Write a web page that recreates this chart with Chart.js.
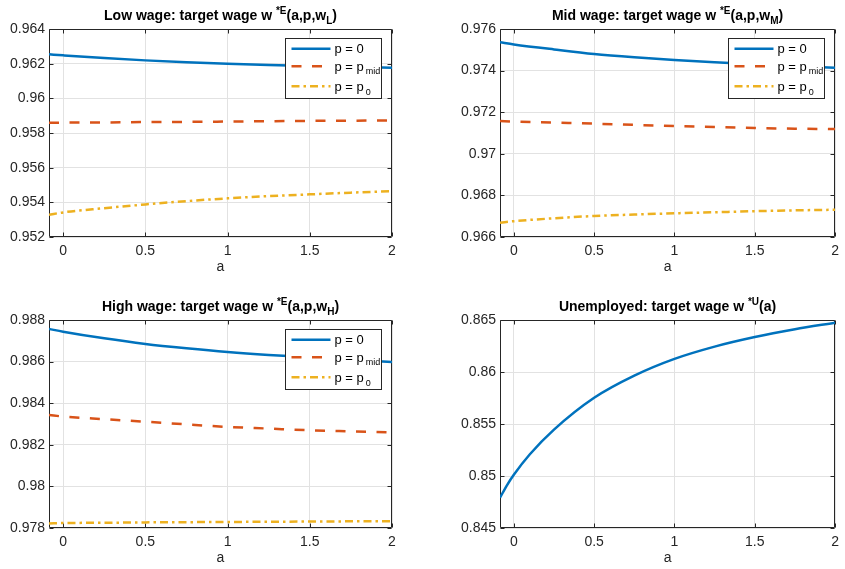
<!DOCTYPE html>
<html>
<head>
<meta charset="utf-8">
<script src="https://cdn.jsdelivr.net/npm/chart.js@4/dist/chart.umd.min.js"></script>
<style>
  html, body { margin: 0; padding: 0; background: #fff; }
  #fig { position: relative; width: 845px; height: 569px; overflow: hidden; }
  .panel { position: absolute; }
</style>
</head>
<body>
<div id="fig">
  <div class="panel" style="left:0;top:0;width:422px;height:284px"><canvas id="cLow"></canvas></div>
  <div class="panel" style="left:422px;top:0;width:423px;height:284px"><canvas id="cMid"></canvas></div>
  <div class="panel" style="left:0;top:284px;width:422px;height:285px"><canvas id="cHigh"></canvas></div>
  <div class="panel" style="left:422px;top:284px;width:423px;height:285px"><canvas id="cUnemp"></canvas></div>
</div>
<script>
// ---- data -------------------------------------------------------------
// asset grid a
const aGrid = [-0.086, 0, 0.25, 0.5, 0.75, 1, 1.25, 1.5, 1.75, 2];
const aGridU = [-0.086, -0.04, 0, 0.1, 0.25, 0.5, 0.75, 1, 1.25, 1.5, 1.75, 2];

// low wage w_L
const lowP0   = [0.96254, 0.96248, 0.96232, 0.96219, 0.96208, 0.96200, 0.96193, 0.96187, 0.96182, 0.96177];
const lowPmid = [0.95859, 0.95860, 0.95861, 0.95863, 0.95864, 0.95866, 0.95868, 0.95870, 0.95871, 0.95873];
const lowPbar = [0.95328, 0.95342, 0.95366, 0.95388, 0.95407, 0.95423, 0.95436, 0.95446, 0.95456, 0.95464];

// mid wage w_M
const midP0   = [0.97536, 0.97526, 0.97502, 0.97480, 0.97464, 0.97451, 0.97440, 0.97430, 0.97421, 0.97414];
const midPmid = [0.97158, 0.97155, 0.97150, 0.97145, 0.97139, 0.97134, 0.97129, 0.97124, 0.97121, 0.97119];
const midPbar = [0.96669, 0.96676, 0.96690, 0.96701, 0.96708, 0.96714, 0.96719, 0.96724, 0.96728, 0.96731];

// high wage w_H
const highP0   = [0.98757, 0.98744, 0.98712, 0.98685, 0.98664, 0.98646, 0.98632, 0.98621, 0.98609, 0.98598];
const highPmid = [0.98343, 0.98336, 0.98323, 0.98311, 0.98298, 0.98286, 0.98278, 0.98270, 0.98265, 0.98260];
const highPbar = [0.97822, 0.97824, 0.97825, 0.97827, 0.97828, 0.97829, 0.97830, 0.97831, 0.97832, 0.97833];

// unemployed
const unempW = [0.84791, 0.84918, 0.85012, 0.85209, 0.85446, 0.85752, 0.85965, 0.86126, 0.86244, 0.86336, 0.86411, 0.86474];

// axes ticks
const xTicks = [0, 0.5, 1, 1.5, 2];
const xRange = [-0.086, 2];
const yTicksLow  = [0.952, 0.954, 0.956, 0.958, 0.96, 0.962, 0.964];
const yTicksMid  = [0.966, 0.968, 0.97, 0.972, 0.974, 0.976];
const yTicksHigh = [0.978, 0.98, 0.982, 0.984, 0.986, 0.988];
const yTicksU    = [0.845, 0.85, 0.855, 0.86, 0.865];

// legend labels: [main text, subscript]
const legendLabels = [['p = 0', ''], ['p = p', 'mid'], ['p = p', '0']];

// ---- styles -----------------------------------------------------------
const FONT = '"Liberation Sans", Arial, Helvetica, sans-serif';
const TXT = '#262626';
const GRID = '#e2e2e2';
const LINE_STYLES = [
  { color: '#0072BD', dash: [] },
  { color: '#D95319', dash: [10, 10.5] },
  { color: '#EDB120', dash: [8, 4, 2.5, 4] }
];
const LW = 2.5;

function pts(xs, ys) { return xs.map((x, i) => ({ x: x, y: ys[i] })); }

// text runs with normal / superscript / subscript pieces
function richWidth(ctx, parts) {
  let w = 0;
  for (const p of parts) {
    ctx.font = (p.bold ? 'bold ' : '') + p.size + 'px ' + FONT;
    w += ctx.measureText(p.t).width + (p.gap || 0);
  }
  return w;
}
function drawRich(ctx, parts, x, baseline) {
  ctx.textBaseline = 'alphabetic';
  ctx.textAlign = 'left';
  for (const p of parts) {
    ctx.font = (p.bold ? 'bold ' : '') + p.size + 'px ' + FONT;
    x += (p.gap || 0);
    ctx.fillText(p.t, x, baseline + (p.dy || 0));
    x += ctx.measureText(p.t).width;
  }
}

function decoPlugin(cfg) {
  return {
    id: 'deco',
    beforeDatasetsDraw(chart) {
      const ctx = chart.ctx, ca = chart.chartArea;
      const xs = chart.scales.x, ys = chart.scales.y;
      const L = Math.round(ca.left) + 0.5, R = Math.round(ca.right) - 0.5;
      const T = Math.round(ca.top) + 0.5, B = Math.round(ca.bottom) - 0.5;
      ctx.save();
      ctx.strokeStyle = TXT;
      ctx.lineWidth = 1;
      ctx.beginPath();
      ctx.rect(L, T, R - L, B - T);
      ctx.stroke();
      // inward tick marks on all four sides
      ctx.beginPath();
      const tl = 4;
      for (const v of xTicks) {
        const px = Math.round(xs.getPixelForValue(v)) + 0.5;
        ctx.moveTo(px, B); ctx.lineTo(px, B - tl);
        ctx.moveTo(px, T); ctx.lineTo(px, T + tl);
      }
      for (const v of cfg.yTicks) {
        const py = Math.round(ys.getPixelForValue(v)) + 0.5;
        ctx.moveTo(L, py); ctx.lineTo(L + tl, py);
        ctx.moveTo(R, py); ctx.lineTo(R - tl, py);
      }
      ctx.stroke();
      ctx.restore();
    },
    afterDraw(chart) {
      const ctx = chart.ctx, ca = chart.chartArea;
      ctx.save();
      ctx.fillStyle = '#000';
      // title
      const tw = richWidth(ctx, cfg.title);
      drawRich(ctx, cfg.title, (ca.left + ca.right) / 2 - tw / 2, ca.top - 9);
      // x axis label
      ctx.fillStyle = TXT;
      ctx.font = '14px ' + FONT;
      ctx.textAlign = 'center';
      ctx.textBaseline = 'middle';
      ctx.fillText('a', (ca.left + ca.right) / 2, ca.bottom + 30);
      // legend box
      if (cfg.legend) {
        const bw = 96, bh = 60;
        const bx = Math.round(ca.right) - 11 - bw + 0.5, by = Math.round(ca.top) + 9 + 0.5;
        ctx.fillStyle = '#fff';
        ctx.fillRect(bx, by, bw, bh);
        ctx.strokeStyle = '#262626';
        ctx.lineWidth = 1;
        ctx.strokeRect(bx, by, bw, bh);
        const rows = [10.3, 27.7, 47.7];
        chart.data.datasets.forEach((ds, i) => {
          const ly = by + rows[i];
          ctx.save();
          ctx.strokeStyle = ds.borderColor;
          ctx.lineWidth = LW;
          ctx.setLineDash(ds.borderDash || []);
          ctx.beginPath();
          ctx.moveTo(bx + 6, ly); ctx.lineTo(bx + 45, ly);
          ctx.stroke();
          ctx.restore();
          ctx.fillStyle = '#000';
          const lab = legendLabels[i];
          const parts = [{ t: lab[0], size: 13 }];
          if (lab[1]) parts.push({ t: lab[1], size: 9, dy: lab[1] === 'mid' ? 3 : 4, gap: 2 });
          drawRich(ctx, parts, bx + 49, ly + 4.5);
        });
      }
      ctx.restore();
    }
  };
}

function makePanel(id, cfg) {
  const canvas = document.getElementById(id);
  const box = canvas.parentNode;
  const W = box.clientWidth, H = box.clientHeight;
  const a = cfg.area;
  const datasets = cfg.series.map((s, i) => ({
    data: pts(s.x, s.y),
    borderColor: LINE_STYLES[i].color,
    borderDash: LINE_STYLES[i].dash,
    borderWidth: LW,
    pointRadius: 0,
    fill: false,
    cubicInterpolationMode: 'monotone'
  }));
  const tickFont = { family: FONT, size: 14 };
  return new Chart(canvas, {
    type: 'line',
    data: { datasets: datasets },
    options: {
      responsive: true,
      maintainAspectRatio: false,
      animation: false,
      events: [],
      layout: { padding: { left: 0, top: a.top, right: W - a.right, bottom: 0 } },
      plugins: { legend: { display: false }, tooltip: { enabled: false }, title: { display: false } },
      scales: {
        x: {
          type: 'linear',
          min: xRange[0], max: xRange[1],
          afterBuildTicks: (s) => { s.ticks = xTicks.map(v => ({ value: v })); },
          afterFit: (s) => { s.height = H - a.bottom; },
          grid: { color: GRID, drawTicks: false, lineWidth: 1 },
          border: { display: false },
          ticks: { color: TXT, font: tickFont, padding: 6, maxRotation: 0,
                   callback: (v) => String(+v.toFixed(6)) }
        },
        y: {
          type: 'linear',
          min: cfg.yTicks[0], max: cfg.yTicks[cfg.yTicks.length - 1],
          afterBuildTicks: (s) => { s.ticks = cfg.yTicks.map(v => ({ value: v })); },
          afterFit: (s) => { s.width = a.left; },
          grid: { color: GRID, drawTicks: false, lineWidth: 1 },
          border: { display: false },
          ticks: { color: TXT, font: tickFont, padding: 4,
                   callback: (v) => String(+v.toFixed(6)) }
        }
      }
    },
    plugins: [decoPlugin(cfg)]
  });
}

const B = { bold: true, size: 14 };
function title(main, sup, rest, sub, close) {
  const parts = [Object.assign({ t: main }, B), { t: sup, bold: true, size: 10, dy: -6 }, Object.assign({ t: rest }, B)];
  if (sub) parts.push({ t: sub, bold: true, size: 10, dy: 4 });
  if (close) parts.push(Object.assign({ t: close }, B));
  return parts;
}

makePanel('cLow', {
  area: { left: 49, top: 29, right: 392, bottom: 237 },
  yTicks: yTicksLow,
  series: [{ x: aGrid, y: lowP0 }, { x: aGrid, y: lowPmid }, { x: aGrid, y: lowPbar }],
  title: title('Low wage: target wage w ', '*E', '(a,p,w', 'L', ')'),
  legend: true
});
makePanel('cMid', {
  area: { left: 78, top: 29, right: 421, bottom: 237 },
  yTicks: yTicksMid,
  series: [{ x: aGrid, y: midP0 }, { x: aGrid, y: midPmid }, { x: aGrid, y: midPbar }],
  title: title('Mid wage: target wage w ', '*E', '(a,p,w', 'M', ')'),
  legend: true
});
makePanel('cHigh', {
  area: { left: 49, top: 36, right: 392, bottom: 244 },
  yTicks: yTicksHigh,
  series: [{ x: aGrid, y: highP0 }, { x: aGrid, y: highPmid }, { x: aGrid, y: highPbar }],
  title: title('High wage: target wage w ', '*E', '(a,p,w', 'H', ')'),
  legend: true
});
makePanel('cUnemp', {
  area: { left: 78, top: 36, right: 421, bottom: 244 },
  yTicks: yTicksU,
  series: [{ x: aGridU, y: unempW }],
  title: title('Unemployed: target wage w ', '*U', '(a)', '', ''),
  legend: false
});
</script>
</body>
</html>
